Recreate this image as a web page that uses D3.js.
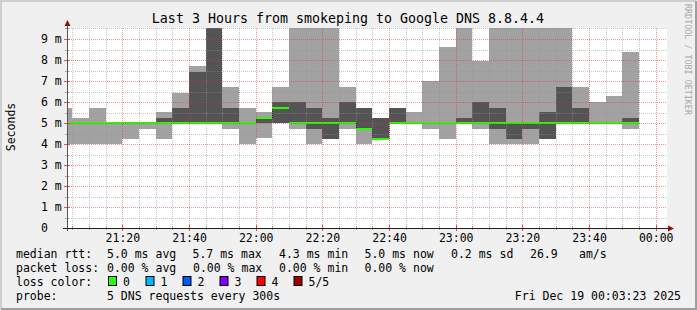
<!DOCTYPE html>
<html><head><meta charset="utf-8">
<script src="https://cdn.jsdelivr.net/npm/d3@7"></script>
<style>
body{margin:0;background:#f0f0f0}
svg{display:block}
text{font-family:"DejaVu Sans Mono",monospace}
</style>
</head><body>
<svg id="c" width="697" height="310"></svg>
<script>
// ---- data (ms) : 5 pings per 5-minute step, sorted p1..p5 (p3 = median) ----
const binTimes = ["21:00","21:05","21:10","21:15","21:20","21:25","21:30","21:35","21:40","21:45",
  "21:50","21:55","22:00","22:05","22:10","22:15","22:20","22:25","22:30","22:35",
  "22:40","22:45","22:50","22:55","23:00","23:05","23:10","23:15","23:20","23:25",
  "23:30","23:35","23:40","23:45","23:50"];
const pingMin = [4.0,4.0,4.0,4.0,4.25,4.73,4.25,5.0,5.0,5.0,
  4.73,4.0,4.27,5.0,4.73,4.0,4.25,4.73,4.0,4.25,
  5.0,5.0,4.73,4.25,5.0,4.73,4.0,4.0,4.0,4.25,
  5.0,5.0,5.0,5.0,4.73];
const ping2 = [5.0,5.0,5.0,5.0,5.0,5.0,5.0,5.0,5.0,5.0,
  5.0,5.0,5.0,5.0,5.0,4.73,4.25,5.0,4.73,4.25,
  5.0,5.0,5.0,5.0,5.0,5.0,4.73,4.25,4.73,4.25,
  5.0,5.0,5.0,5.0,5.0];
const medianRtt = [5.0,5.0,5.0,5.0,5.0,5.0,5.0,5.0,5.0,5.0,
  5.0,5.0,5.24,5.73,5.0,5.0,5.0,5.0,4.73,4.25,
  5.0,5.0,5.0,5.0,5.0,5.0,5.0,5.0,5.0,5.0,
  5.0,5.0,5.0,5.0,5.0];
const ping4 = [5.0,5.0,5.0,5.0,5.0,5.0,5.24,5.71,7.44,10.5,
  5.71,5.0,5.24,6.0,6.0,5.71,5.24,6.0,5.71,5.24,
  5.71,5.0,5.0,5.0,5.24,6.0,5.71,5.0,5.0,5.52,
  6.73,5.71,5.0,5.0,5.24];
const pingMax = [5.71,5.24,5.71,5.0,5.0,5.0,5.52,6.44,7.71,10.5,
  6.73,5.71,5.52,6.73,10.5,10.5,10.5,6.73,5.71,5.24,
  5.71,5.52,7.0,8.63,10.5,7.94,10.5,10.5,10.5,10.5,
  10.5,6.73,6.0,6.29,8.38];

const yTicks = [0,1,2,3,4,5,6,7,8,9];
const yTickLabels = ["0","1 m","2 m","3 m","4 m","5 m","6 m","7 m","8 m","9 m"];

const titleText = "Last 3 Hours from smokeping to Google DNS 8.8.4.4";
const rttLabel = "median rtt:";
const rttStats = ["5.0 ms avg","5.7 ms max","4.3 ms min","5.0 ms now","0.2 ms sd","26.9","am/s"];
const lossLabel = "packet loss:";
const lossStats = ["0.00 % avg","0.00 % max","0.00 % min","0.00 % now"];
const lossColorLabel = "loss color:";
const lossNames = ["0","1","2","3","4","5/5"];
const lossColors = ["#26ff00","#00b8ff","#0059ff","#7e00ff","#ff0000","#a10000"];
const probeLabel = "probe:";
const probeText = "5 DNS requests every 300s";
const stampText = "Fri Dec 19 00:03:23 2025";

// ---- layout ----
const svg = d3.select("#c");
const W = 697, H = 310;
const L = 67, R = 667, T = 28, B = 228;
const t0 = new Date(2025,11,18,21,3,23), t1 = new Date(2025,11,19,0,3,23);
const x = d3.scaleTime().domain([t0,t1]).range([L,R]);
const y = d3.scaleLinear().domain([0,200/21]).range([B,T]);
const parse = s => { const [h,m] = s.split(":").map(Number); return new Date(2025,11,18,h,m,0); };
const bins = binTimes.map((s,i)=>({s:parse(s), e:d3.timeMinute.offset(parse(s),5),
  p1:pingMin[i], p2:ping2[i], p3:medianRtt[i], p4:ping4[i], p5:pingMax[i]}));

// background and frame
svg.append("rect").attr("width",W).attr("height",H).attr("fill","#f0f0f0");
svg.append("path").attr("d",`M1,${H-1}V1H${W-1}`).attr("fill","none").attr("stroke","#cfcfcf").attr("stroke-width",2);
svg.append("path").attr("d",`M1,${H-1}H${W-1}V1`).attr("fill","none").attr("stroke","#9e9e9e").attr("stroke-width",2);
svg.append("rect").attr("x",L).attr("y",T).attr("width",R-L).attr("height",B-T).attr("fill","#fff");

svg.append("clipPath").attr("id","pc").append("rect").attr("x",L).attr("y",T).attr("width",R-L).attr("height",B-T);
const g = svg.append("g").attr("clip-path","url(#pc)");

// smoke: outer (p1..p5), inner (p2..p4)
g.selectAll("rect.lt").data(bins).join("rect").attr("class","lt")
  .attr("x",d=>x(d.s)).attr("width",d=>x(d.e)-x(d.s))
  .attr("y",d=>y(d.p5)).attr("height",d=>Math.max(0,y(d.p1)-y(d.p5)))
  .attr("fill","#a2a2a2").attr("shape-rendering","crispEdges");
g.selectAll("rect.dk").data(bins).join("rect").attr("class","dk")
  .attr("x",d=>x(d.s)).attr("width",d=>x(d.e)-x(d.s))
  .attr("y",d=>y(d.p4)).attr("height",d=>Math.max(0,y(d.p2)-y(d.p4)))
  .attr("fill","#545454").attr("shape-rendering","crispEdges");

// median connectors
const conn = [];
for (let i=0;i<bins.length-1;i++) if (bins[i].p3!==bins[i+1].p3) conn.push([bins[i],bins[i+1]]);
g.selectAll("line.cn").data(conn).join("line").attr("class","cn")
  .attr("x1",d=>Math.round(x(d[0].e))+0.5).attr("x2",d=>Math.round(x(d[0].e))+0.5)
  .attr("y1",d=>y(d[0].p3)).attr("y2",d=>y(d[1].p3))
  .attr("stroke","#222").attr("stroke-width",1).attr("stroke-dasharray","1,1");
// median band coloured by loss (0 loss -> green)
g.selectAll("rect.md").data(bins).join("rect").attr("class","md")
  .attr("x",d=>x(d.s)).attr("width",d=>x(d.e)-x(d.s))
  .attr("y",d=>y(d.p3)-1).attr("height",2)
  .attr("fill",lossColors[0]).attr("shape-rendering","crispEdges");

// grid (on top, like rrdtool)
const minorX = d3.timeMinute.every(5).range(t0,t1);
const majorX = d3.timeMinute.every(20).range(t0,d3.timeMinute.offset(t1,1));
const minorY = d3.range(0.5,9.6,1);
const gridMinor = "rgba(143,143,143,0.5)", gridMajor = "rgba(222,48,48,0.5)";
const gg = svg.append("g").attr("shape-rendering","crispEdges");
gg.selectAll("line.vx").data(minorX.filter(t=>t.getMinutes()%20!==0)).join("line")
  .attr("x1",d=>Math.round(x(d))+0.5).attr("x2",d=>Math.round(x(d))+0.5).attr("y1",T).attr("y2",B)
  .attr("stroke",gridMinor).attr("stroke-dasharray","1,1");
gg.selectAll("line.hy").data(minorY).join("line")
  .attr("x1",L).attr("x2",R).attr("y1",d=>Math.round(y(d))+0.5).attr("y2",d=>Math.round(y(d))+0.5)
  .attr("stroke",gridMinor).attr("stroke-dasharray","1,1");
gg.selectAll("line.vX").data(majorX).join("line")
  .attr("x1",d=>Math.round(x(d))+0.5).attr("x2",d=>Math.round(x(d))+0.5).attr("y1",T).attr("y2",B)
  .attr("stroke",gridMajor).attr("stroke-dasharray","1,1");
gg.selectAll("line.hY").data(yTicks.slice(1)).join("line")
  .attr("x1",L).attr("x2",R).attr("y1",d=>Math.round(y(d))+0.5).attr("y2",d=>Math.round(y(d))+0.5)
  .attr("stroke",gridMajor).attr("stroke-dasharray","1,1");

// axis ticks
gg.selectAll("line.tx").data(minorX).join("line")
  .attr("x1",d=>Math.round(x(d))+0.5).attr("x2",d=>Math.round(x(d))+0.5).attr("y1",B-2).attr("y2",B+2)
  .attr("stroke","rgba(143,143,143,0.8)");
gg.selectAll("line.tX").data(majorX).join("line")
  .attr("x1",d=>Math.round(x(d))+0.5).attr("x2",d=>Math.round(x(d))+0.5).attr("y1",B-3).attr("y2",B+3)
  .attr("stroke","rgba(222,48,48,0.8)");
gg.selectAll("line.ty").data(minorY).join("line")
  .attr("x1",L-2).attr("x2",L+2).attr("y1",d=>Math.round(y(d))+0.5).attr("y2",d=>Math.round(y(d))+0.5)
  .attr("stroke","rgba(143,143,143,0.8)");
gg.selectAll("line.tY").data(yTicks).join("line")
  .attr("x1",L-3).attr("x2",L+3).attr("y1",d=>Math.round(y(d))+0.5).attr("y2",d=>Math.round(y(d))+0.5)
  .attr("stroke","rgba(222,48,48,0.8)");

// axes lines + arrows
svg.append("line").attr("x1",L+0.5).attr("x2",L+0.5).attr("y1",B+3).attr("y2",24).attr("stroke","#555").attr("shape-rendering","crispEdges");
svg.append("line").attr("x1",L-4).attr("x2",670).attr("y1",B+0.5).attr("y2",B+0.5).attr("stroke","#222").attr("shape-rendering","crispEdges");
svg.append("path").attr("d",`M${L+0.5},20L${L-2.5},26L${L+3.5},26Z`).attr("fill","#8b1010");
svg.append("path").attr("d",`M674,${B+0.5}L668,${B-2.5}L668,${B+3.5}Z`).attr("fill","#8b1010");

// axis labels (d3 axis for x tick labels)
const xAx = svg.append("g").attr("transform",`translate(0,${B})`)
  .call(d3.axisBottom(x).tickValues(majorX).tickFormat(d3.timeFormat("%H:%M")).tickSize(0).tickPadding(5));
xAx.select(".domain").remove();
xAx.selectAll("text").attr("font-family","DejaVu Sans Mono").attr("font-size","11.5px").attr("fill","#000").attr("dy","0.75em");

svg.append("g").selectAll("text").data(yTicks).join("text")
  .attr("x",41).attr("y",d=>y(d)+4).attr("font-size","11.5px").attr("fill","#000")
  .text((d,i)=>yTickLabels[i]);

svg.append("text").attr("transform","translate(15,127) rotate(-90)").attr("text-anchor","middle")
  .attr("font-size","11.5px").attr("fill","#000").text("Seconds");

svg.append("text").attr("x",348).attr("y",23).attr("text-anchor","middle").attr("font-size","13.3px")
  .attr("fill","#000").text(titleText);

svg.append("text").attr("transform","translate(685,4) rotate(90)").attr("font-size","8.4px")
  .attr("fill","#a8a8a8").text("RRDTOOL / TOBI OETIKER");

// legend
const fs = "11.5px";
const row = (yy, label) => svg.append("text").attr("x",16).attr("y",yy).attr("font-size",fs).attr("fill","#000").text(label);
const y1 = 258, y2 = 272, y3 = 286, y4 = 300;
row(y1, rttLabel);
const rttX = [107,192.5,279,364.5,451,530,579];
svg.append("g").selectAll("text").data(rttStats).join("text").attr("x",(d,i)=>rttX[i]).attr("y",y1)
  .attr("font-size",fs).attr("fill","#000").text(d=>d);
row(y2, lossLabel);
const lossX = [107,193,279,364.5];
svg.append("g").selectAll("text").data(lossStats).join("text").attr("x",(d,i)=>lossX[i]).attr("y",y2)
  .attr("font-size",fs).attr("fill","#000").text(d=>d);
row(y3, lossColorLabel);
const boxX = [108,145.5,182.5,219.5,256.5,293.5];
const lg = svg.append("g");
lg.selectAll("rect").data(lossColors).join("rect").attr("x",(d,i)=>boxX[i]+0.5).attr("y",y3-9.5)
  .attr("width",8).attr("height",9).attr("fill",d=>d).attr("stroke","#000").attr("stroke-width",1);
lg.selectAll("text").data(lossNames).join("text").attr("x",(d,i)=>boxX[i]+15).attr("y",y3)
  .attr("font-size",fs).attr("fill","#000").text(d=>d);
row(y4, probeLabel);
svg.append("text").attr("x",107).attr("y",y4).attr("font-size",fs).attr("fill","#000").text(probeText);
svg.append("text").attr("x",681).attr("y",y4).attr("text-anchor","end").attr("font-size",fs).attr("fill","#000").text(stampText);
</script>
</body></html>
